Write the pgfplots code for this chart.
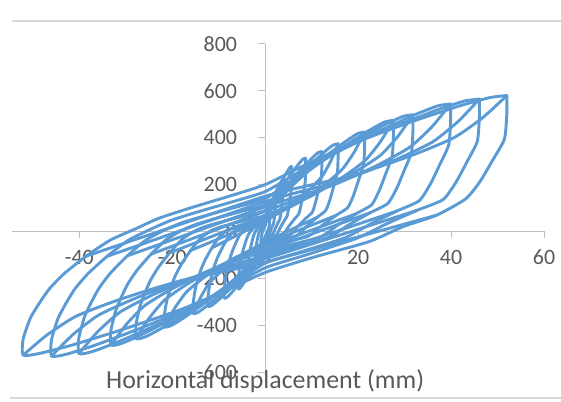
\documentclass[border=0pt]{standalone}
\usepackage{pgfplots}
\pgfplotsset{compat=1.18}
\usepackage{fontspec}
\setmainfont{Carlito}
\definecolor{xblue}{HTML}{5B9BD5}
\definecolor{xtext}{HTML}{595959}
\definecolor{xaxis}{HTML}{BFBFBF}
\definecolor{xborder}{HTML}{D9D9D9}
\tikzset{loop/.style={draw=xblue, solid, line width=2.9bp, line join=round, line cap=round, mark=none, smooth, tension=0.35}}
\begin{document}
\begin{tikzpicture}[x=1bp,y=1bp]
\useasboundingbox (0,0) rectangle (561,401);
\draw[xborder, line width=1.2bp] (12,380) -- (561,380);
\draw[xborder, line width=1.2bp] (10,3) -- (561,3);
\begin{axis}[
  at={(12bp,29bp)}, anchor=south west,
  scale only axis, width=532bp, height=328bp,
  xmin=-54.5, xmax=60, ymin=-600, ymax=800,
  axis lines=middle,
  axis line style={xaxis, line width=1bp, -},
  xtick={-40,-20,0,20,40,60},
  ytick={-600,-400,-200,0,200,400,600,800},
  hide obscured x ticks=false, hide obscured y ticks=false,
  tick style={xaxis, line width=1bp},
  major tick length=7bp, tick align=outside,
  /pgf/number format/assume math mode=true,
  tick label style={font=\fontsize{22}{26}\selectfont, text=xtext, inner sep=0pt},
  xticklabel style={anchor=base, yshift=-26bp},
  yticklabel style={anchor=east, xshift=-21bp},
  clip=false,
]
% loop 1
\addplot[loop] coordinates {(1,80) (1,69.6) (0.99,54.4) (0.94,41.6) (0.89,29.6) (0.83,19.2) (0.71,12.8) (0.57,4.8) (0.43,-4) (0.2,-12.6) (0,-20) (-0.15,-30) (-0.35,-42.5) (-0.6,-55) (-0.8,-64) (-0.93,-69) (-1,-70) (-1,-60.9) (-0.97,-49) (-0.93,-39.9) (-0.89,-32.2) (-0.83,-23.8) (-0.74,-14) (-0.64,-4.9) (-0.53,1.75) (-0.44,7) (-0.31,12.5) (-0.15,18.75) (0,25) (0.15,36) (0.35,49.75) (0.6,63.5) (0.8,73.4) (0.93,78.8) (1,80)};
% loop 2
\addplot[loop] coordinates {(2.2,150) (2.2,130.5) (2.18,102) (2.07,78) (1.96,55.5) (1.83,36) (1.56,24) (1.25,9) (0.95,-7.5) (0.44,-18.9) (0,-30) (-0.33,-52) (-0.77,-79.5) (-1.32,-107) (-1.76,-126.8) (-2.05,-137.9) (-2.2,-140) (-2.2,-121.8) (-2.13,-98) (-2.05,-79.8) (-1.96,-64.4) (-1.83,-47.6) (-1.63,-28) (-1.41,-9.8) (-1.17,2.45) (-0.97,9.8) (-0.68,17.5) (-0.33,26.25) (0,35) (0.33,58) (0.77,86.75) (1.32,115.5) (1.76,136.2) (2.05,147.75) (2.2,150)};
% loop 3
\addplot[loop] coordinates {(3.8,220) (3.8,191.4) (3.76,149.6) (3.57,114.4) (3.38,81.4) (3.15,52.8) (2.7,35.2) (2.17,13.2) (1.63,-11) (0.76,-25.2) (0,-40) (-0.57,-72) (-1.33,-112) (-2.28,-152) (-3.04,-180.8) (-3.53,-197) (-3.8,-200) (-3.8,-174) (-3.69,-140) (-3.53,-114) (-3.38,-92) (-3.15,-68) (-2.81,-40) (-2.43,-14) (-2.01,3.15) (-1.67,12.6) (-1.18,22.5) (-0.57,33.75) (0,45) (0.57,80) (1.33,123.75) (2.28,167.5) (3.04,199) (3.53,216.7) (3.8,220)};
% loop 4
\addplot[loop] coordinates {(5.7,277) (5.7,241) (5.64,188.4) (5.36,144) (5.07,102.5) (4.73,66.5) (4.05,44.3) (3.25,16.6) (2.45,-13.9) (1.14,-28.4) (0,-45) (-0.87,-85) (-2.03,-135) (-3.48,-185) (-4.64,-221) (-5.39,-241.3) (-5.8,-245) (-5.8,-213.2) (-5.63,-171.5) (-5.39,-139.7) (-5.16,-112.7) (-4.81,-83.3) (-4.29,-49) (-3.71,-17.2) (-3.07,3.5) (-2.55,14) (-1.8,25) (-0.87,37.5) (0,50) (0.86,95.4) (2.0,152.2) (3.42,208.9) (4.56,249.8) (5.3,272.8) (5.7,277)};
% loop 5
\addplot[loop] coordinates {(8.7,313) (8.7,272.3) (8.61,212.8) (8.18,162.8) (7.74,115.8) (7.22,75.1) (6.18,50.1) (4.96,18.8) (3.74,-15.7) (1.74,-31.5) (0,-50) (-1.32,-97) (-3.08,-155.75) (-5.28,-214.5) (-7.04,-256.8) (-8.18,-280.7) (-8.8,-285) (-8.8,-248) (-8.54,-199.5) (-8.18,-162.5) (-7.83,-131.1) (-7.3,-96.9) (-6.51,-57) (-5.63,-20) (-4.66,3.85) (-3.87,15.4) (-2.73,27.5) (-1.32,41.25) (0,55) (1.31,106.6) (3.05,171.1) (5.22,235.6) (6.96,282) (8.09,308.3) (8.7,313)};
% loop 6
\addplot[loop] coordinates {(12.2,341) (12.2,296.7) (12.08,231.9) (11.47,177.3) (10.86,126.2) (10.13,81.8) (8.66,54.6) (6.95,20.5) (5.25,-17.1) (2.44,-34.7) (0,-55) (-1.85,-108) (-4.31,-174.25) (-7.38,-240.5) (-9.84,-288.2) (-11.44,-315.2) (-12.3,-320) (-12.3,-278.4) (-11.93,-224) (-11.44,-182.4) (-10.95,-147.2) (-10.21,-108.8) (-9.1,-64) (-7.87,-22.4) (-6.52,4.06) (-5.41,16.24) (-3.81,29) (-1.85,43.5) (0,58) (1.83,114.6) (4.27,185.35) (7.32,256.1) (9.76,307) (11.35,335.9) (12.2,341)};
% loop 7
\addplot[loop] coordinates {(15.7,374) (15.7,325.4) (15.54,254.3) (14.76,194.5) (13.97,138.4) (13.03,89.8) (11.15,59.8) (8.95,22.4) (6.75,-18.7) (3.14,-37.8) (0,-60) (-2.33,-118) (-5.43,-190.5) (-9.3,-263) (-12.4,-315.2) (-14.42,-344.75) (-15.5,-350) (-15.5,-304.5) (-15.04,-245) (-14.42,-199.5) (-13.8,-161) (-12.87,-119) (-11.47,-70) (-9.92,-24.5) (-8.22,4.2) (-6.82,16.8) (-4.81,30) (-2.33,45) (0,60) (2.36,122.8) (5.5,201.3) (9.42,279.8) (12.56,336.3) (14.6,368.4) (15.7,374)};
\addplot[loop] coordinates {(-11.47,-70) (0,45) (5.5,110.8) (9.42,176.6) (12.25,235.8) (14.13,301.6) (15.7,374)};
\addplot[loop] coordinates {(11.15,59.8) (0,-45) (-5.43,-106) (-9.3,-167) (-12.09,-221.9) (-13.95,-282.9) (-15.5,-350)};
% loop 8
\addplot[loop] coordinates {(21.4,424) (21.4,368.9) (21.19,288.3) (20.12,220.5) (19.05,156.9) (17.76,101.8) (15.19,67.8) (12.2,25.4) (9.2,-21.2) (4.28,-44.1) (0,-70) (-3.26,-137.4) (-7.6,-221.65) (-13.02,-305.9) (-17.36,-366.6) (-20.18,-400.9) (-21.7,-407) (-21.7,-354.1) (-21.05,-284.9) (-20.18,-232) (-19.31,-187.2) (-18.01,-138.4) (-16.06,-81.4) (-13.89,-28.5) (-11.5,4.9) (-9.55,19.6) (-6.73,35) (-3.26,52.5) (0,70) (3.21,140.8) (7.49,229.3) (12.84,317.8) (17.12,381.5) (19.9,417.6) (21.4,424)};
\addplot[loop] coordinates {(-16.06,-81.4) (0,52.5) (7.49,126.8) (12.84,201.1) (16.69,268) (19.26,342.3) (21.4,424)};
\addplot[loop] coordinates {(15.19,67.8) (0,-52.5) (-7.6,-123.4) (-13.02,-194.3) (-16.93,-258.1) (-19.53,-329) (-21.7,-407)};
% loop 9
\addplot[loop] coordinates {(27.6,474) (27.6,412.4) (27.32,322.3) (25.94,246.5) (24.56,175.4) (22.91,113.8) (19.6,75.8) (15.73,28.4) (11.87,-23.7) (5.52,-56.7) (0,-90) (-4.17,-163.4) (-9.73,-255.2) (-16.68,-346.9) (-22.24,-413) (-25.85,-450.1) (-27.8,-457) (-27.8,-397.6) (-26.97,-319.9) (-25.85,-260.5) (-24.74,-210.2) (-23.07,-155.4) (-20.57,-91.4) (-17.79,-32) (-14.73,6.3) (-12.23,25.2) (-8.62,45) (-4.17,67.5) (0,90) (4.14,166.8) (9.66,262.8) (16.56,358.8) (22.08,427.9) (25.67,466.9) (27.6,474)};
\addplot[loop] coordinates {(-20.57,-91.4) (0,67.5) (9.66,148.8) (16.56,230.1) (21.53,303.3) (24.84,384.6) (27.6,474)};
\addplot[loop] coordinates {(19.6,75.8) (0,-67.5) (-9.73,-145.4) (-16.68,-223.3) (-21.68,-293.4) (-25.02,-371.3) (-27.8,-457)};
% loop 10
\addplot[loop] coordinates {(31.8,498) (31.8,433.3) (31.48,338.6) (29.89,259) (28.3,184.3) (26.39,119.5) (22.58,79.7) (18.13,29.9) (13.67,-24.9) (6.36,-69.3) (0,-110) (-4.98,-185) (-11.62,-278.75) (-19.92,-372.5) (-26.56,-440) (-30.88,-477.7) (-33.2,-485) (-33.2,-422) (-32.2,-339.5) (-30.88,-276.5) (-29.55,-223.1) (-27.56,-164.9) (-24.57,-97) (-21.25,-34) (-17.6,8.05) (-14.61,32.2) (-10.29,57.5) (-4.98,86.25) (0,115) (4.77,191.6) (11.13,287.35) (19.08,383.1) (25.44,452) (29.57,490.5) (31.8,498)};
\addplot[loop] coordinates {(-24.57,-97) (0,86.3) (11.13,168.6) (19.08,251) (24.8,325.1) (28.62,407.4) (31.8,498)};
\addplot[loop] coordinates {(22.58,79.7) (0,-82.5) (-11.62,-163) (-19.92,-243.5) (-25.9,-316) (-29.88,-396.5) (-33.2,-485)};
% loop 11
\addplot[loop] coordinates {(39.9,544) (39.9,473.3) (39.5,369.9) (37.51,282.9) (35.51,201.3) (33.12,130.6) (28.33,87) (22.74,32.6) (17.16,-27.2) (7.98,-85) (0,-135) (-6.02,-212.2) (-14.04,-308.7) (-24.06,-405.2) (-32.08,-474.7) (-37.29,-513.2) (-40.1,-521) (-40.1,-453.3) (-38.9,-364.7) (-37.29,-297) (-35.69,-239.7) (-33.28,-177.1) (-29.67,-104.2) (-25.66,-36.5) (-21.25,9.8) (-17.64,39.2) (-12.43,70) (-6.02,105) (0,140) (5.99,220.8) (13.97,321.8) (23.94,422.8) (31.92,495.5) (37.11,535.8) (39.9,544)};
\addplot[loop] coordinates {(-29.67,-104.2) (0,105) (13.97,192.8) (23.94,280.6) (31.12,359.6) (35.91,447.4) (39.9,544)};
\addplot[loop] coordinates {(28.33,87) (0,-101.3) (-14.04,-185.2) (-24.06,-269.2) (-31.28,-344.7) (-36.09,-428.7) (-40.1,-521)};
% loop 12
\addplot[loop] coordinates {(46.1,565) (46.1,491.6) (45.64,384.2) (43.33,293.8) (41.03,209.1) (38.26,135.6) (32.73,90.4) (26.28,33.9) (19.82,-28.25) (9.22,-97.7) (0,-155) (-6.9,-230.4) (-16.1,-324.65) (-27.6,-418.9) (-36.8,-486.8) (-42.78,-524) (-46,-532) (-46,-462.8) (-44.62,-372.4) (-42.78,-303.2) (-40.94,-244.7) (-38.18,-180.9) (-34.04,-106.4) (-29.44,-37.2) (-24.38,11.9) (-20.24,47.6) (-14.26,85) (-6.9,127.5) (0,170) (6.92,249) (16.14,347.75) (27.66,446.5) (36.88,517.6) (42.87,556.5) (46.1,565)};
\addplot[loop] coordinates {(-34.04,-106.4) (0,127.5) (16.14,215) (27.66,302.5) (35.96,381.3) (41.49,468.8) (46.1,565)};
\addplot[loop] coordinates {(32.73,90.4) (0,-116.3) (-16.1,-199.4) (-27.6,-282.6) (-35.88,-357.4) (-41.4,-440.5) (-46,-532)};
% loop 13
\addplot[loop] coordinates {(52,580) (52,504.6) (51.48,394.4) (48.88,301.6) (46.28,214.6) (43.16,139.2) (36.92,69.6) (29.64,20.3) (22.36,-43.5) (10.4,-110.25) (0,-175) (-7.82,-245.6) (-18.24,-333.85) (-31.26,-422.1) (-41.68,-485.6) (-48.45,-520.1) (-52.1,-528) (-52.1,-459.4) (-50.54,-369.6) (-48.45,-301) (-46.37,-242.9) (-43.24,-179.5) (-38.55,-105.6) (-33.34,-37) (-27.61,14) (-22.92,56) (-16.15,100) (-7.82,150) (0,200) (7.8,276) (18.2,371) (31.2,466) (41.6,534.4) (48.36,571.3) (52,580)};
\addplot[loop] coordinates {(-38.55,-105.6) (0,150) (18.2,236) (31.2,322) (40.56,399.4) (46.8,485.4) (52,580)};
\addplot[loop] coordinates {(36.92,69.6) (0,-131.3) (-18.24,-210.6) (-31.26,-290) (-40.64,-361.4) (-46.89,-440.7) (-52.1,-528)};
\node[anchor=center, inner sep=0pt, font=\fontsize{26}{30}\selectfont, text=xtext] at (axis cs:0,-640) {Horizontal displacement (mm)};
\end{axis}
\end{tikzpicture}
\end{document}
